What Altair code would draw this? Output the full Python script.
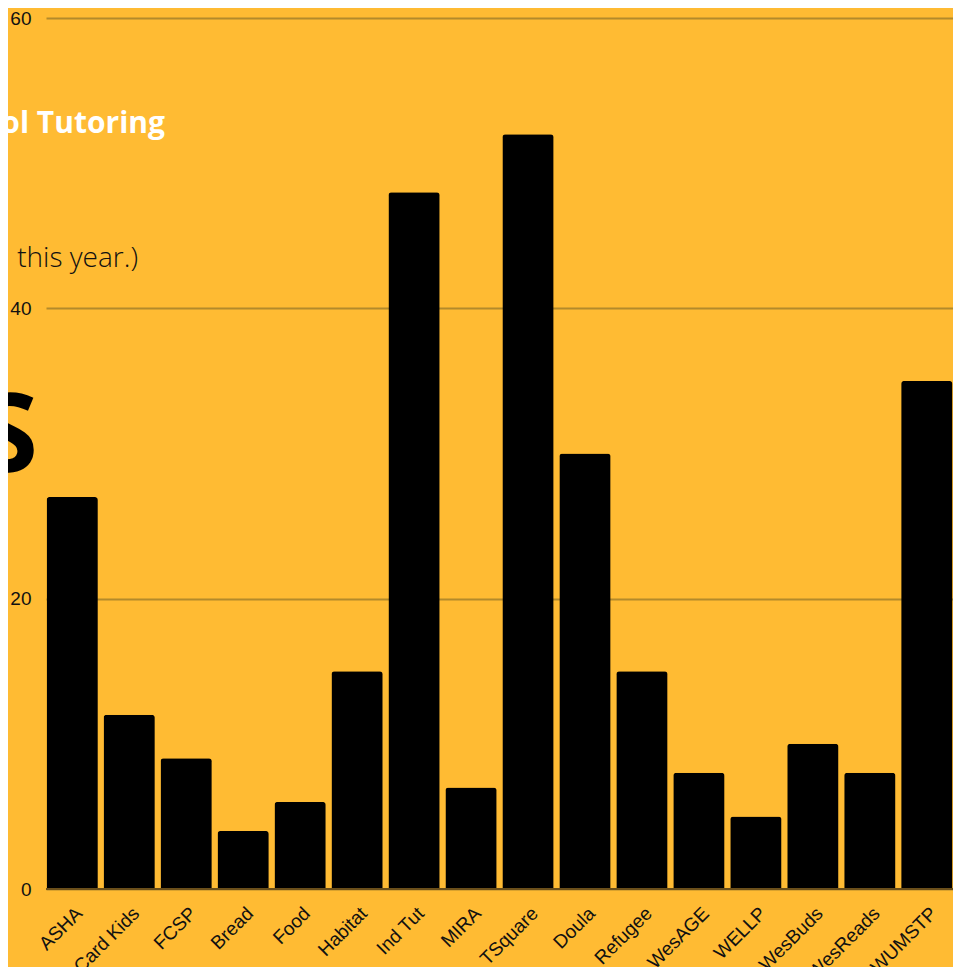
import altair as alt
import pandas as pd

categories = ["ASHA", "Card Kids", "FCSP", "Bread", "Food", "Habitat", "Ind Tut", "MIRA",
              "TSquare", "Doula", "Refugee", "WesAGE", "WELLP", "WesBuds", "WesReads", "WUMSTP"]
values = [27, 12, 9, 4, 6, 15, 48, 7, 52, 30, 15, 8, 5, 10, 8, 35]
y_ticks = [0, 20, 40, 60]

# background text fragments visible behind the chart
bg_texts = ["ol Tutoring", "this year.)", "S"]

df = pd.DataFrame({"program": categories, "count": values})

LABEL_FONT = "Arial"

bars = alt.Chart(df).mark_bar(
    color="black", cornerRadiusTopLeft=3, cornerRadiusTopRight=3
).encode(
    x=alt.X(
        "program:N", sort=categories, title=None,
        scale=alt.Scale(paddingInner=0.1, paddingOuter=0.01),
        axis=alt.Axis(labelAngle=-45, labelAlign="right", labelBaseline="middle",
                      labelFontSize=19, labelFont=LABEL_FONT, labelColor="#111111",
                      labelPadding=21, labelOffset=7, ticks=False, domain=False,
                      grid=False, labelOverlap=False),
    ),
    y=alt.Y(
        "count:Q", title=None,
        scale=alt.Scale(domain=[0, 60], nice=False),
        axis=alt.Axis(values=y_ticks, grid=True, gridColor="#B38A2B", gridWidth=2,
                      ticks=False, domain=False, labelFontSize=19, labelFont=LABEL_FONT,
                      labelColor="#111111", labelPadding=15),
    ),
)

zero = alt.Chart(df).mark_rule(color="#6B4F1A", strokeWidth=2).encode(y=alt.datum(0))

t1 = alt.Chart(pd.DataFrame({"t": [bg_texts[0]]})).mark_text(
    align="right", baseline="alphabetic", font="Open Sans", fontWeight="bold",
    fontSize=30, color="white"
).encode(text="t:N", x=alt.value(119), y=alt.value(115))

t2 = alt.Chart(pd.DataFrame({"t": [bg_texts[1]]})).mark_text(
    align="right", baseline="alphabetic", font="Open Sans", fontWeight=300,
    fontSize=28, color="#111111"
).encode(text="t:N", x=alt.value(92), y=alt.value(249))

t3 = alt.Chart(pd.DataFrame({"t": [bg_texts[2]]})).mark_text(
    align="right", baseline="alphabetic", font="Open Sans", fontWeight="bold",
    fontSize=110, color="#000000"
).encode(text="t:N", x=alt.value(-8), y=alt.value(454))

chart = alt.layer(t1, t2, t3, bars, zero).properties(
    width=907, height=871,
    autosize=alt.AutoSizeParams(type="none"),
    padding={"left": 38, "top": 10, "right": 0, "bottom": 78},
).configure(background="#FFBB33").configure_view(stroke=None)

chart.save("out.html", embed_options={"renderer": "svg", "actions": False})
